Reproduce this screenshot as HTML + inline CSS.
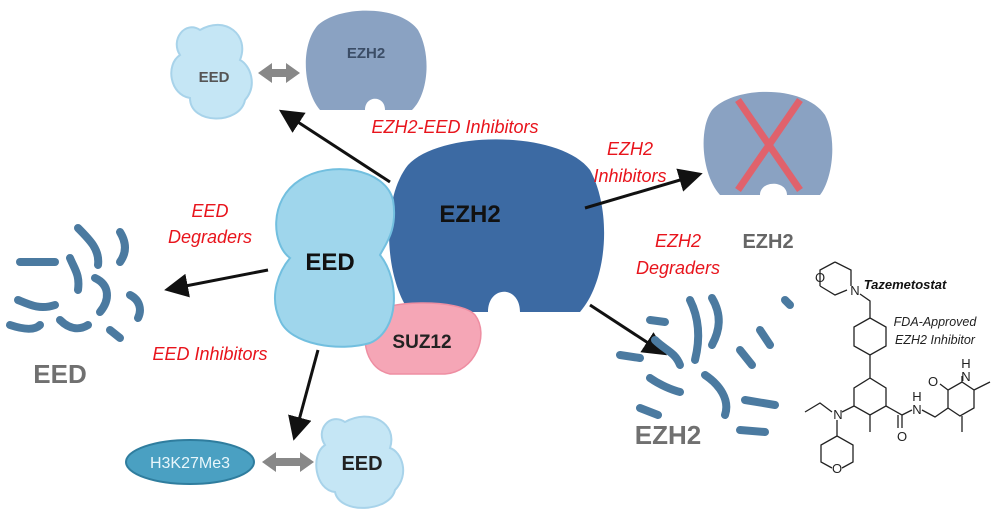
<!DOCTYPE html>
<html><head><meta charset="utf-8"><style>
html,body{margin:0;padding:0;background:#fff;width:1000px;height:520px;overflow:hidden}
svg{display:block}
.red{fill:#e8141c;font:italic 18px "Liberation Sans",sans-serif}
.lbl{font-family:"Liberation Sans",sans-serif;font-weight:bold}
.chem{stroke:#222;stroke-width:1.3;fill:none}
.at{font:13px "Liberation Sans",sans-serif;fill:#222;text-anchor:middle}
</style></head><body>
<svg width="1000" height="520" viewBox="0 0 1000 520">
<defs><marker id="ah" markerWidth="8" markerHeight="8" refX="6" refY="4" orient="auto"><path d="M0,0 L8,4 L0,8 Z" fill="#111"/></marker></defs>

<g>
<path d="M200,30 C185,20 170,40 180,55 C165,65 170,95 190,98 C190,125 240,125 245,100 C258,85 250,65 240,60 C250,35 225,15 200,30Z" fill="#c5e6f5" stroke="#a8d3ea" stroke-width="2"/>
<text x="214" y="82" class="lbl" font-size="15" fill="#555" text-anchor="middle">EED</text></g>
<g><path d="M258,73 L272,63 L272,69 L286,69 L286,63 L300,73 L286,83 L286,77 L272,77 L272,83Z" fill="#888"/></g>
<g>
<path d="M318,25 C340,5 400,5 418,30 C432,55 428,95 412,110 L385,110 C385,95 365,95 365,110 L320,110 C303,90 300,45 318,25Z" fill="#8aa2c2"/>
<text x="366" y="58" class="lbl" font-size="15" fill="#3b4d66" text-anchor="middle">EZH2</text></g>

<line x1="390" y1="182" x2="284" y2="113" stroke="#111" stroke-width="3" marker-end="url(#ah)"/>
<text x="455" y="133" class="red" text-anchor="middle">EZH2-EED Inhibitors</text>

<g>
<path d="M408,165 C440,130 560,130 590,170 C612,210 608,280 580,312 L520,312 C520,285 488,285 488,312 L410,312 C385,280 380,200 408,165Z" fill="#3c6aa3"/>
<text x="470" y="222" class="lbl" font-size="24" fill="#111" text-anchor="middle">EZH2</text></g>
<g>
<path d="M372,315 C380,300 460,298 475,315 C490,335 475,372 445,374 L390,374 C362,368 360,330 372,315Z" fill="#f5a6b6" stroke="#ee8ea2" stroke-width="1.5"/>
<text x="422" y="348" class="lbl" font-size="19" fill="#222" text-anchor="middle">SUZ12</text></g>
<g>
<path d="M300,180 C330,160 385,168 393,200 C398,230 385,245 380,255 C400,280 400,330 370,343 C340,352 290,345 280,320 C268,295 280,270 290,258 C272,245 268,200 300,180Z" fill="#9fd6ec" stroke="#72bfdf" stroke-width="2"/>
<text x="330" y="270" class="lbl" font-size="24" fill="#111" text-anchor="middle">EED</text></g>

<text x="210" y="217" class="red" text-anchor="middle">EED</text>
<text x="210" y="243" class="red" text-anchor="middle">Degraders</text>
<line x1="268" y1="270" x2="170" y2="289" stroke="#111" stroke-width="3" marker-end="url(#ah)"/>

<g stroke="#4b7aa0" stroke-width="8" stroke-linecap="round" fill="none">
<path d="M78,228 C90,240 100,250 98,265"/><path d="M120,232 C128,245 125,255 120,262"/>
<path d="M20,262 L55,262"/><path d="M70,258 C75,270 80,275 78,290"/><path d="M95,278 C110,285 110,300 100,312"/>
<path d="M18,300 C30,305 40,310 55,305"/><path d="M130,295 C140,300 142,310 138,318"/>
<path d="M10,325 C25,330 35,330 40,325"/><path d="M60,320 C70,330 80,330 88,325"/><path d="M110,330 L120,338"/>
</g>
<text x="60" y="383" class="lbl" font-size="26" fill="#707070" text-anchor="middle">EED</text>

<text x="210" y="360" class="red" text-anchor="middle">EED Inhibitors</text>
<line x1="318" y1="350" x2="295" y2="435" stroke="#111" stroke-width="3" marker-end="url(#ah)"/>
<g>
<ellipse cx="190" cy="462" rx="64" ry="22" fill="#4aa0c2" stroke="#2f7d9e" stroke-width="2"/>
<text x="190" y="468" font-family="Liberation Sans,sans-serif" font-size="16" fill="#e8f6fb" text-anchor="middle">H3K27Me3</text></g>
<g><path d="M262,462 L276,452 L276,458 L300,458 L300,452 L314,462 L300,472 L300,466 L276,466 L276,472Z" fill="#888"/></g>
<g>
<path d="M345,422 C330,412 315,430 325,445 C310,455 315,490 335,492 C340,515 390,512 395,490 C410,475 402,452 390,448 C398,423 370,408 345,422Z" fill="#c5e6f5" stroke="#a8d3ea" stroke-width="2"/>
<text x="362" y="470" class="lbl" font-size="20" fill="#222" text-anchor="middle">EED</text></g>

<text x="630" y="155" class="red" text-anchor="middle">EZH2</text>
<text x="630" y="182" class="red" text-anchor="middle">Inhibitors</text>
<line x1="585" y1="208" x2="697" y2="175" stroke="#111" stroke-width="3" marker-end="url(#ah)"/>
<g>
<path d="M712,110 C735,85 805,85 825,115 C838,140 832,180 820,195 L787,195 C787,180 760,180 760,195 L720,195 C702,175 698,130 712,110Z" fill="#8aa2c2"/>
<path d="M738,100 L800,190 M800,100 L738,190" stroke="#e0626c" stroke-width="7"/>
<text x="768" y="248" class="lbl" font-size="20" fill="#666" text-anchor="middle">EZH2</text></g>

<text x="678" y="247" class="red" text-anchor="middle">EZH2</text>
<text x="678" y="274" class="red" text-anchor="middle">Degraders</text>
<line x1="590" y1="305" x2="662" y2="352" stroke="#111" stroke-width="3" marker-end="url(#ah)"/>
<g stroke="#4b7aa0" stroke-width="8" stroke-linecap="round" fill="none">
<path d="M690,300 C700,320 700,340 695,360"/><path d="M712,298 C722,315 720,330 712,345"/>
<path d="M650,320 L665,322"/><path d="M655,340 C665,350 675,352 680,365"/>
<path d="M620,355 L640,358"/><path d="M705,375 C720,385 730,400 725,415"/>
<path d="M650,378 C660,385 672,390 680,392"/><path d="M740,350 L752,365"/>
<path d="M760,330 L770,345"/><path d="M745,400 L775,405"/><path d="M640,408 L658,415"/>
<path d="M785,300 L790,305"/><path d="M740,430 L765,432"/>
</g>
<text x="668" y="444" class="lbl" font-size="26" fill="#707070" text-anchor="middle">EZH2</text>

<g>
<text x="905" y="289" font-family="Liberation Sans,sans-serif" font-size="13" font-weight="bold" font-style="italic" fill="#111" text-anchor="middle">Tazemetostat</text>
<text x="935" y="326" font-family="Liberation Sans,sans-serif" font-size="12.5" font-style="italic" fill="#222" text-anchor="middle">FDA-Approved</text>
<text x="935" y="344" font-family="Liberation Sans,sans-serif" font-size="12.5" font-style="italic" fill="#222" text-anchor="middle">EZH2 Inhibitor</text>
<path class="chem" d="M835,262 L851,270 L851,286 M835,262 L820,270 L820,286 M820,286 L835,295 L847,290"/>
<text class="at" x="820" y="282">O</text><text class="at" x="855" y="295">N</text>
<path class="chem" d="M860,294 L870,301 L870,318 L886,327 L886,346 L870,355 L854,346 L854,327 L870,318 M870,355 L870,378 L886,388 L886,406 L870,415 L854,406 L854,388 L870,378 M870,415 L870,432 M854,406 L842,412 M832,412 L820,403 L805,412 M837,420 L837,436 L853,445 L853,462 L842,468 M832,468 L821,462 L821,445 L837,436 M886,406 L902,415 L902,428 M898,415 L898,428 M902,415 L912,410 M922,410 L935,417 L948,408 L948,390 L962,382 L974,390 L974,408 L960,416 L948,408 M962,416 L962,432 M974,390 L990,382 M948,390 L940,384 M962,382 L962,376"/>
<text class="at" x="838" y="419">N</text><text class="at" x="837" y="473">O</text>
<text class="at" x="902" y="441">O</text><text class="at" x="917" y="414">N</text><text class="at" x="917" y="401">H</text>
<text class="at" x="933" y="386">O</text><text class="at" x="966" y="381">N</text><text class="at" x="966" y="368">H</text>
</g>
</svg>
</body></html>
